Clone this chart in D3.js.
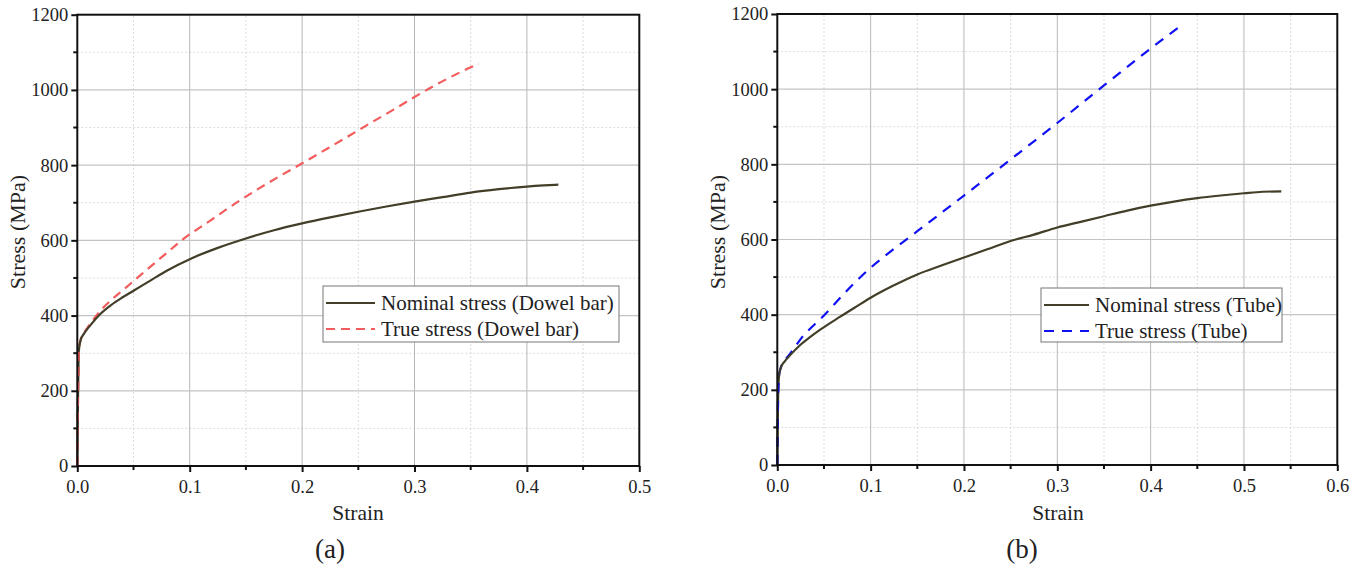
<!DOCTYPE html>
<html><head><meta charset="utf-8">
<script src="https://cdn.jsdelivr.net/npm/d3@7"></script>
<style>body{margin:0;background:#fff;} svg{display:block;} text{font-family:"Liberation Serif","Times New Roman",serif;fill:#222;}</style>
</head><body>
<svg id="c" width="1367" height="567"></svg>
<script>
// ---- Data ----
const dowelNominalStrain = [0, 0.0005, 0.001, 0.0015, 0.003, 0.006, 0.011, 0.02, 0.03, 0.04, 0.05, 0.065, 0.08, 0.1, 0.125, 0.15, 0.175, 0.2, 0.225, 0.25, 0.275, 0.3, 0.325, 0.35, 0.375, 0.4, 0.415, 0.428];
const dowelNominalStress = [0, 150, 260, 310, 335, 352, 372, 403, 428, 448, 466, 493, 520, 550, 580, 605, 627, 645, 661, 676, 690, 703, 715, 727, 736, 743, 746, 748];
const dowelTrueStrain = [0, 0.0005, 0.001, 0.0015, 0.003, 0.006, 0.011, 0.02, 0.03, 0.04, 0.049, 0.063, 0.077, 0.095, 0.118, 0.14, 0.161, 0.182, 0.203, 0.223, 0.243, 0.262, 0.281, 0.3, 0.318, 0.336, 0.347, 0.357];
const dowelTrueStress = [0, 150, 260, 311, 336, 354, 376, 411, 441, 466, 489, 525, 560, 605, 652, 697, 737, 774, 810, 845, 880, 914, 947, 981, 1012, 1040, 1056, 1070];

const tubeNominalStrain = [0, 0.0005, 0.001, 0.002, 0.004, 0.008, 0.014, 0.024, 0.035, 0.046, 0.067, 0.085, 0.1, 0.125, 0.15, 0.175, 0.2, 0.225, 0.25, 0.275, 0.3, 0.325, 0.35, 0.375, 0.4, 0.425, 0.45, 0.475, 0.5, 0.52, 0.54];
const tubeNominalStress = [0, 120, 200, 240, 260, 276, 293, 318, 340, 360, 394, 422, 445, 478, 507, 530, 552, 574, 596, 613, 632, 647, 662, 677, 690, 701, 710, 717, 723, 727, 728];
const tubeTrueStrain = [0, 0.0005, 0.001, 0.002, 0.004, 0.008, 0.014, 0.025, 0.05, 0.075, 0.1, 0.125, 0.15, 0.2, 0.25, 0.3, 0.35, 0.4, 0.433];
const tubeTrueStress = [0, 120, 200, 240, 261, 278, 297, 335, 398, 465, 525, 575, 622, 717, 813, 910, 1010, 1108, 1170];

const panels = [
  {id:"a", x0:77.3, x1:639.3, y0:466, y1:14.7, xMax:0.5, xTicks:[0,0.1,0.2,0.3,0.4,0.5], xMinor:[0.05,0.15,0.25,0.35,0.45],
   nomX:dowelNominalStrain, nomY:dowelNominalStress, trX:dowelTrueStrain, trY:dowelTrueStress,
   trColor:"#f25c5c", dash:"9,6", nomLabel:"Nominal stress (Dowel bar)", trLabel:"True stress (Dowel bar)",
   leg:{x:323,y:286,w:296,h:56,t:58}, ytitleX:17, xtitleX:358, capX:330},
  {id:"b", x0:777.3, x1:1337.3, y0:465, y1:14, xMax:0.6, xTicks:[0,0.1,0.2,0.3,0.4,0.5,0.6], xMinor:[0.05,0.15,0.25,0.35,0.45,0.55],
   nomX:tubeNominalStrain, nomY:tubeNominalStress, trX:tubeTrueStrain, trY:tubeTrueStress,
   trColor:"#1010f5", dash:"10,8", nomLabel:"Nominal stress (Tube)", trLabel:"True stress (Tube)",
   leg:{x:1041,y:288,w:241,h:54,t:54}, ytitleX:717, xtitleX:1058, capX:1022}
];
const yTicks = [0,200,400,600,800,1000,1200];
const yMinor = [100,300,500,700,900,1100];

const svg = d3.select("#c");
panels.forEach(p => {
  const x = d3.scaleLinear().domain([0,p.xMax]).range([p.x0,p.x1]);
  const y = d3.scaleLinear().domain([0,1200]).range([p.y0,p.y1]);
  const g = svg.append("g");
  // minor grid
  g.selectAll(".mgx").data(p.xMinor).join("line").attr("x1",d=>x(d)).attr("x2",d=>x(d)).attr("y1",p.y0).attr("y2",p.y1)
    .attr("stroke","#dcdcdc").attr("stroke-width",1).attr("stroke-dasharray","2,2");
  g.selectAll(".mgy").data(yMinor).join("line").attr("y1",d=>y(d)).attr("y2",d=>y(d)).attr("x1",p.x0).attr("x2",p.x1)
    .attr("stroke","#dcdcdc").attr("stroke-width",1).attr("stroke-dasharray","2,2");
  // major grid
  g.selectAll(".gx").data(p.xTicks.slice(1,-1)).join("line").attr("x1",d=>x(d)).attr("x2",d=>x(d)).attr("y1",p.y0).attr("y2",p.y1)
    .attr("stroke","#b8b8b8").attr("stroke-width",1);
  g.selectAll(".gy").data(yTicks.slice(1,-1)).join("line").attr("y1",d=>y(d)).attr("y2",d=>y(d)).attr("x1",p.x0).attr("x2",p.x1)
    .attr("stroke","#c4c4c4").attr("stroke-width",1.2);
  // curves
  const line = (xs,ys) => d3.line().curve(d3.curveMonotoneX).x((d,i)=>x(xs[i])).y((d,i)=>y(ys[i]))(xs);
  g.append("path").attr("d",line(p.trX,p.trY)).attr("fill","none").attr("stroke",p.trColor).attr("stroke-width",2.2).attr("stroke-dasharray",p.dash);
  g.append("path").attr("d",line(p.nomX,p.nomY)).attr("fill","none").attr("stroke","#423e28").attr("stroke-width",2.2);
  g.append("path").attr("d",line(p.trX.slice(0,4),p.trY.slice(0,4))).attr("fill","none").attr("stroke",p.trColor).attr("stroke-width",2).attr("stroke-dasharray",p.dash);
  // axes
  const xa = g.append("g").attr("transform",`translate(0,${p.y0})`)
    .call(d3.axisBottom(x).tickValues(p.xTicks).tickFormat(d3.format(".1f")).tickSize(6).tickSizeOuter(0));
  xa.append("g").selectAll("line").data(p.xMinor).join("line").attr("x1",d=>x(d)).attr("x2",d=>x(d)).attr("y1",0).attr("y2",4).attr("stroke","#111").attr("stroke-width",2);
  const ya = g.append("g").attr("transform",`translate(${p.x0},0)`)
    .call(d3.axisLeft(y).tickValues(yTicks).tickFormat(d3.format("d")).tickSize(6).tickSizeOuter(0));
  ya.append("g").selectAll("line").data(yMinor).join("line").attr("y1",d=>y(d)).attr("y2",d=>y(d)).attr("x1",0).attr("x2",-4).attr("stroke","#111").attr("stroke-width",2);
  [xa,ya].forEach(a => {
    a.select(".domain").remove();
    a.attr("font-family",null);
    a.selectAll(".tick line").attr("stroke","#111").attr("stroke-width",2);
    a.selectAll(".tick text").attr("font-size",18.5).attr("fill","#222");
  });
  xa.selectAll(".tick text").attr("y",14);
  ya.selectAll(".tick text").attr("x",-9);
  // frame
  g.append("rect").attr("x",p.x0).attr("y",p.y1).attr("width",p.x1-p.x0).attr("height",p.y0-p.y1)
    .attr("fill","none").attr("stroke","#111").attr("stroke-width",2);
  // titles
  g.append("text").attr("x",p.xtitleX).attr("y",520).attr("text-anchor","middle").attr("font-size",21.5).text("Strain");
  g.append("text").attr("transform",`translate(${p.ytitleX+8},${232}) rotate(-90)`).attr("text-anchor","middle").attr("font-size",22).text("Stress (MPa)");
  g.append("text").attr("x",p.capX).attr("y",558).attr("text-anchor","middle").attr("font-size",27).text(`(${p.id})`);
  // legend
  const L = p.leg;
  g.append("rect").attr("x",L.x).attr("y",L.y).attr("width",L.w).attr("height",L.h).attr("fill","#fff").attr("stroke","#777").attr("stroke-width",1);
  g.append("line").attr("x1",L.x+3).attr("x2",L.x+L.t-6).attr("y1",L.y+17).attr("y2",L.y+17).attr("stroke","#423e28").attr("stroke-width",2.2);
  g.append("line").attr("x1",L.x+3).attr("x2",L.x+L.t-6).attr("y1",L.y+43).attr("y2",L.y+43).attr("stroke",p.trColor).attr("stroke-width",2.2).attr("stroke-dasharray",p.dash);
  g.append("text").attr("x",L.x+L.t).attr("y",L.y+24).attr("font-size",21).text(p.nomLabel);
  g.append("text").attr("x",L.x+L.t).attr("y",L.y+50).attr("font-size",21).text(p.trLabel);
});
</script>
</body></html>
